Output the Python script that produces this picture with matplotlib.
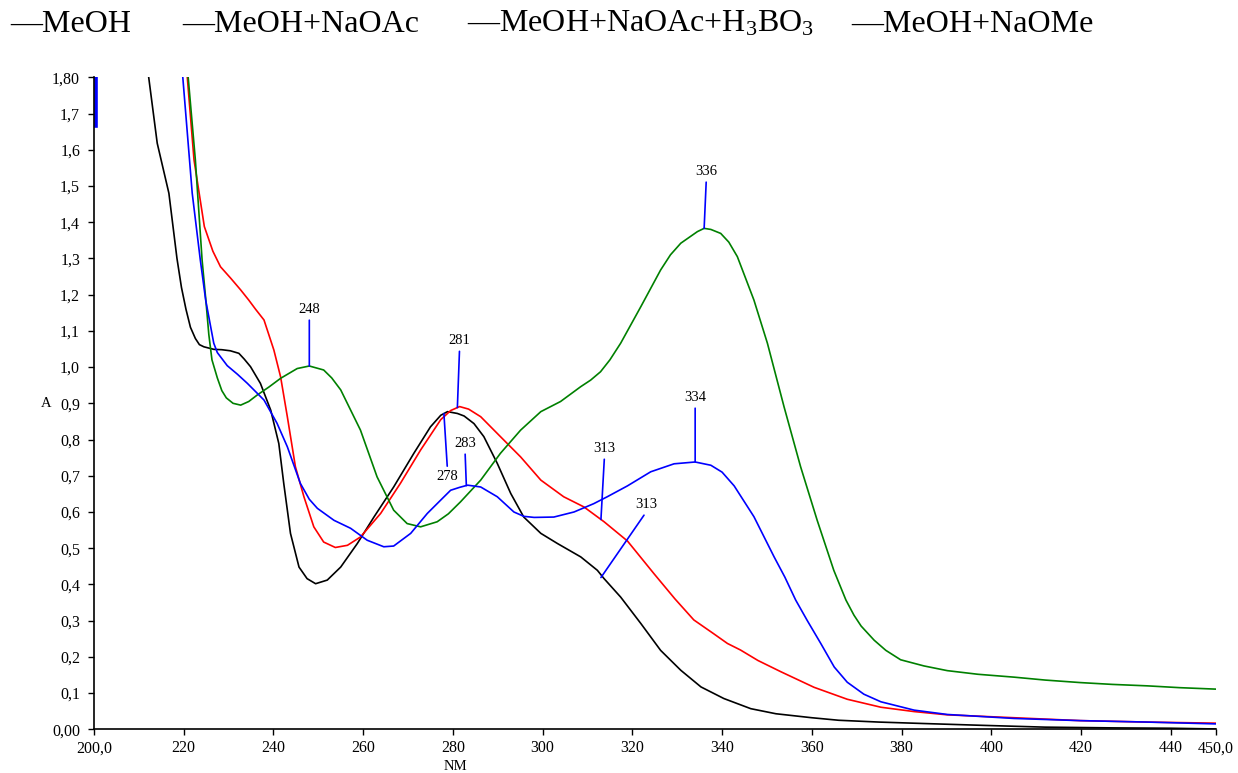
import numpy as np
import matplotlib
matplotlib.use("Agg")
import matplotlib.pyplot as plt

plt.rcParams['font.family'] = ['Liberation Serif', 'DejaVu Serif']
plt.rcParams['mathtext.fontset'] = 'custom'
plt.rcParams['mathtext.rm'] = 'Liberation Serif'

# UV spectra, absorbance vs wavelength (nm)
meoh_nm = [211.5, 212.2, 214.1, 216.7, 218.5, 219.5, 220.5, 221.5, 222.6, 223.5, 224.5, 226.7,
           228.5, 230.4, 232.3, 233.5, 234.9, 237.1, 239.4, 241.2, 242.3, 243.8, 245.7, 247.5,
           249.4, 252.0, 255.0, 258.7, 262.4, 266.8, 271.3, 275.0, 277.3, 278.8, 281.0, 282.5,
           284.7, 286.9, 289.9, 292.9, 295.8, 299.6, 303.3, 308.5, 312.2, 313.7, 317.4, 321.9,
           326.3, 330.8, 335.3, 340.4, 346.4, 352.0, 360.0, 366.0, 375.0, 385.0, 398.0, 412.0,
           427.0, 440.0, 450.0]
meoh_a = [1.90, 1.80, 1.618, 1.48, 1.30, 1.22, 1.16, 1.11, 1.079, 1.062, 1.056, 1.049,
          1.048, 1.045, 1.038, 1.022, 1.001, 0.955, 0.881, 0.789, 0.679, 0.541, 0.448, 0.416,
          0.402, 0.412, 0.448, 0.513, 0.586, 0.669, 0.762, 0.835, 0.867, 0.877, 0.872, 0.865,
          0.844, 0.808, 0.734, 0.651, 0.586, 0.541, 0.513, 0.476, 0.439, 0.416, 0.365, 0.292,
          0.218, 0.163, 0.117, 0.085, 0.057, 0.043, 0.032, 0.025, 0.020, 0.016, 0.011, 0.006,
          0.004, 0.003, 0.001]

naoac_nm = [220.3, 220.8, 222.3, 224.6, 226.5, 228.2, 230.5, 232.7, 234.5, 236.0, 237.9, 240.1,
            241.6, 243.1, 244.9, 246.8, 249.0, 251.2, 253.8, 256.5, 259.4, 263.9, 268.3, 272.8,
            277.3, 279.5, 281.5, 283.5, 286.2, 290.6, 295.1, 299.6, 304.7, 309.2, 313.7, 318.9,
            324.8, 329.5, 333.7, 338.0, 341.2, 344.1, 348.0, 353.1, 360.5, 367.9, 375.4, 382.8,
            390.2, 405.1, 419.9, 434.8, 450.0]
naoac_a = [1.90, 1.80, 1.572, 1.388, 1.32, 1.277, 1.245, 1.213, 1.185, 1.16, 1.130, 1.047,
           0.973, 0.863, 0.725, 0.642, 0.559, 0.517, 0.502, 0.508, 0.531, 0.596, 0.679, 0.771,
           0.855, 0.880, 0.891, 0.884, 0.863, 0.808, 0.752, 0.688, 0.642, 0.614, 0.573, 0.520,
           0.430, 0.360, 0.302, 0.265, 0.237, 0.219, 0.190, 0.159, 0.116, 0.083, 0.061, 0.049,
           0.040, 0.032, 0.024, 0.020, 0.017]

boric_nm = [220.5, 221.0, 222.6, 224.1, 224.9, 225.6, 226.3, 227.5, 228.5, 229.5, 231.0, 232.7,
            234.5, 236.4, 239.0, 241.6, 245.3, 248.0, 251.2, 253.0, 255.0, 259.4, 263.1, 266.8,
            269.8, 272.8, 276.5, 279.0, 281.7, 286.2, 290.6, 295.1, 299.6, 304.0, 308.5, 310.7,
            312.9, 315.0, 317.4, 321.9, 326.3, 328.5, 330.8, 334.5, 336.0, 337.5, 339.7, 341.5,
            343.4, 347.1, 350.1, 353.8, 357.5, 361.2, 364.9, 367.6, 369.4, 371.0, 373.9, 376.5,
            379.8, 385.0, 390.2, 397.0, 405.1, 412.0, 419.9, 427.0, 434.8, 442.0, 450.0]
boric_a = [1.90, 1.80, 1.572, 1.296, 1.19, 1.09, 1.02, 0.97, 0.935, 0.915, 0.900, 0.895,
           0.905, 0.923, 0.945, 0.969, 0.996, 1.003, 0.992, 0.970, 0.937, 0.826, 0.697, 0.605,
           0.568, 0.559, 0.573, 0.595, 0.628, 0.688, 0.762, 0.826, 0.877, 0.905, 0.946, 0.964,
           0.987, 1.020, 1.066, 1.167, 1.268, 1.310, 1.342, 1.374, 1.383, 1.380, 1.369, 1.345,
           1.305, 1.185, 1.066, 0.891, 0.725, 0.577, 0.439, 0.357, 0.315, 0.285, 0.246, 0.218,
           0.192, 0.175, 0.162, 0.152, 0.144, 0.136, 0.129, 0.124, 0.120, 0.115, 0.111]

naome_nm = [219.6, 219.8, 221.9, 223.7, 224.9, 226.7, 227.5, 229.7, 232.0, 234.2, 237.9, 240.8,
            243.1, 246.0, 248.0, 249.8, 253.5, 257.2, 260.9, 264.6, 266.8, 270.6, 274.3, 277.3,
            279.5, 281.5, 283.3, 286.2, 289.9, 293.6, 295.8, 298.1, 302.5, 307.0, 311.4, 314.4,
            318.9, 324.1, 329.3, 334.0, 337.5, 340.0, 342.7, 347.1, 351.6, 354.0, 356.4, 359.0,
            362.0, 365.0, 367.9, 371.6, 375.4, 382.8, 390.2, 405.1, 419.9, 434.8, 450.0]
naome_a = [1.90, 1.80, 1.48, 1.296, 1.185, 1.066, 1.04, 1.004, 0.980, 0.955, 0.909, 0.845,
           0.780, 0.679, 0.635, 0.610, 0.577, 0.555, 0.522, 0.504, 0.506, 0.541, 0.596, 0.633,
           0.660, 0.668, 0.674, 0.669, 0.642, 0.600, 0.588, 0.585, 0.586, 0.600, 0.623, 0.642,
           0.672, 0.711, 0.733, 0.738, 0.729, 0.710, 0.672, 0.587, 0.476, 0.420, 0.357, 0.300,
           0.237, 0.172, 0.130, 0.097, 0.076, 0.053, 0.041, 0.030, 0.024, 0.020, 0.015]
# short off-scale stroke of the NaOMe trace at the start of the scan
naome_edge_nm = [200.5, 200.5]
naome_edge_a = [1.90, 1.665]

legend_labels = ['—MeOH', '—MeOH+NaOAc', r'—MeOH+NaOAc+H$\mathregular{_3}$BO$\mathregular{_3}$',
                 '—MeOH+NaOMe']

x_ticks = [200, 220, 240, 260, 280, 300, 320, 340, 360, 380, 400, 420, 440, 450]
x_ticklabels = ['200,0', '220', '240', '260', '280', '300', '320', '340', '360', '380',
                '400', '420', '440', '450,0']
y_ticks = [0.0, 0.1, 0.2, 0.3, 0.4, 0.5, 0.6, 0.7, 0.8, 0.9, 1.0, 1.1, 1.2, 1.3, 1.4, 1.5,
           1.6, 1.7, 1.8]
y_ticklabels = ['0,00', '0,1', '0,2', '0,3', '0,4', '0,5', '0,6', '0,7', '0,8', '0,9', '1,0',
                '1,1', '1,2', '1,3', '1,4', '1,5', '1,6', '1,7', '1,80']

# peak picks: (label value, trace, label x, label y, label above?)
peaks = [
    (336, 'boric', 336.5, 1.522, True),
    (334, 'naome', 334.0, 0.898, True),
    (248, 'boric', 248.0, 1.141, True),
    (281, 'naoac', 281.5, 1.055, True),
    (278, 'meoh', 278.8, 0.715, False),
    (283, 'naome', 282.7, 0.771, True),
    (313, 'naoac', 313.8, 0.757, True),
    (313, 'meoh', 323.2, 0.602, True),
]

traces = {
    'meoh': (meoh_nm, meoh_a, 'black'),
    'naoac': (naoac_nm, naoac_a, 'red'),
    'boric': (boric_nm, boric_a, 'green'),
    'naome': (naome_nm, naome_a, 'blue'),
}

fig = plt.figure(figsize=(12.38, 7.73), dpi=100)
ax = fig.add_axes([0.0759, 0.0565, 0.906, 0.8435])

for key in ['meoh', 'naoac', 'boric', 'naome']:
    nm, a, col = traces[key]
    ax.plot(nm, a, color=col, lw=1.2)
ax.plot(naome_edge_nm, naome_edge_a, color='blue', lw=2.6)

for val, key, tx, ty, above in peaks:
    nm, a, col = traces[key]
    py = np.interp(val, nm, a)
    if key == 'meoh' and val == 313:
        py = np.interp(313.5, nm, a)
    ax.annotate(str(val), xy=(val, py), xytext=(tx, ty), ha='center',
                va='bottom' if above else 'top', fontsize=10.5,
                arrowprops=dict(arrowstyle='-', color='blue', lw=1.2, shrinkA=1, shrinkB=0,
                                relpos=(0.5, 0) if above else (0.5, 1)))

ax.set_xlim(200, 450)
ax.set_ylim(0, 1.8)
ax.set_xticks(x_ticks)
ax.set_xticklabels(x_ticklabels)
ax.set_yticks(y_ticks)
ax.set_yticklabels(y_ticklabels)
ax.tick_params(direction='out', length=4, width=1, labelsize=11.5)
ax.tick_params(axis='y', pad=6)
ax.tick_params(axis='x', pad=4)
for s in ['top', 'right']:
    ax.spines[s].set_visible(False)
for s in ['left', 'bottom']:
    ax.spines[s].set_linewidth(1.2)

ax.set_xlabel('NM', fontsize=10.5)
ax.xaxis.set_label_coords(0.322, -0.047)
ax.set_ylabel('A', fontsize=10.5, rotation=0)
ax.yaxis.set_label_coords(-0.043, 0.489)

# legend row across the top
legend_x = [10, 182, 467, 851]
for lx, lab in zip(legend_x, legend_labels):
    fig.text(lx / 1238, 1 - 24 / 773, lab, fontsize=23, va='center', ha='left')

fig.savefig('out.png', dpi=100)
